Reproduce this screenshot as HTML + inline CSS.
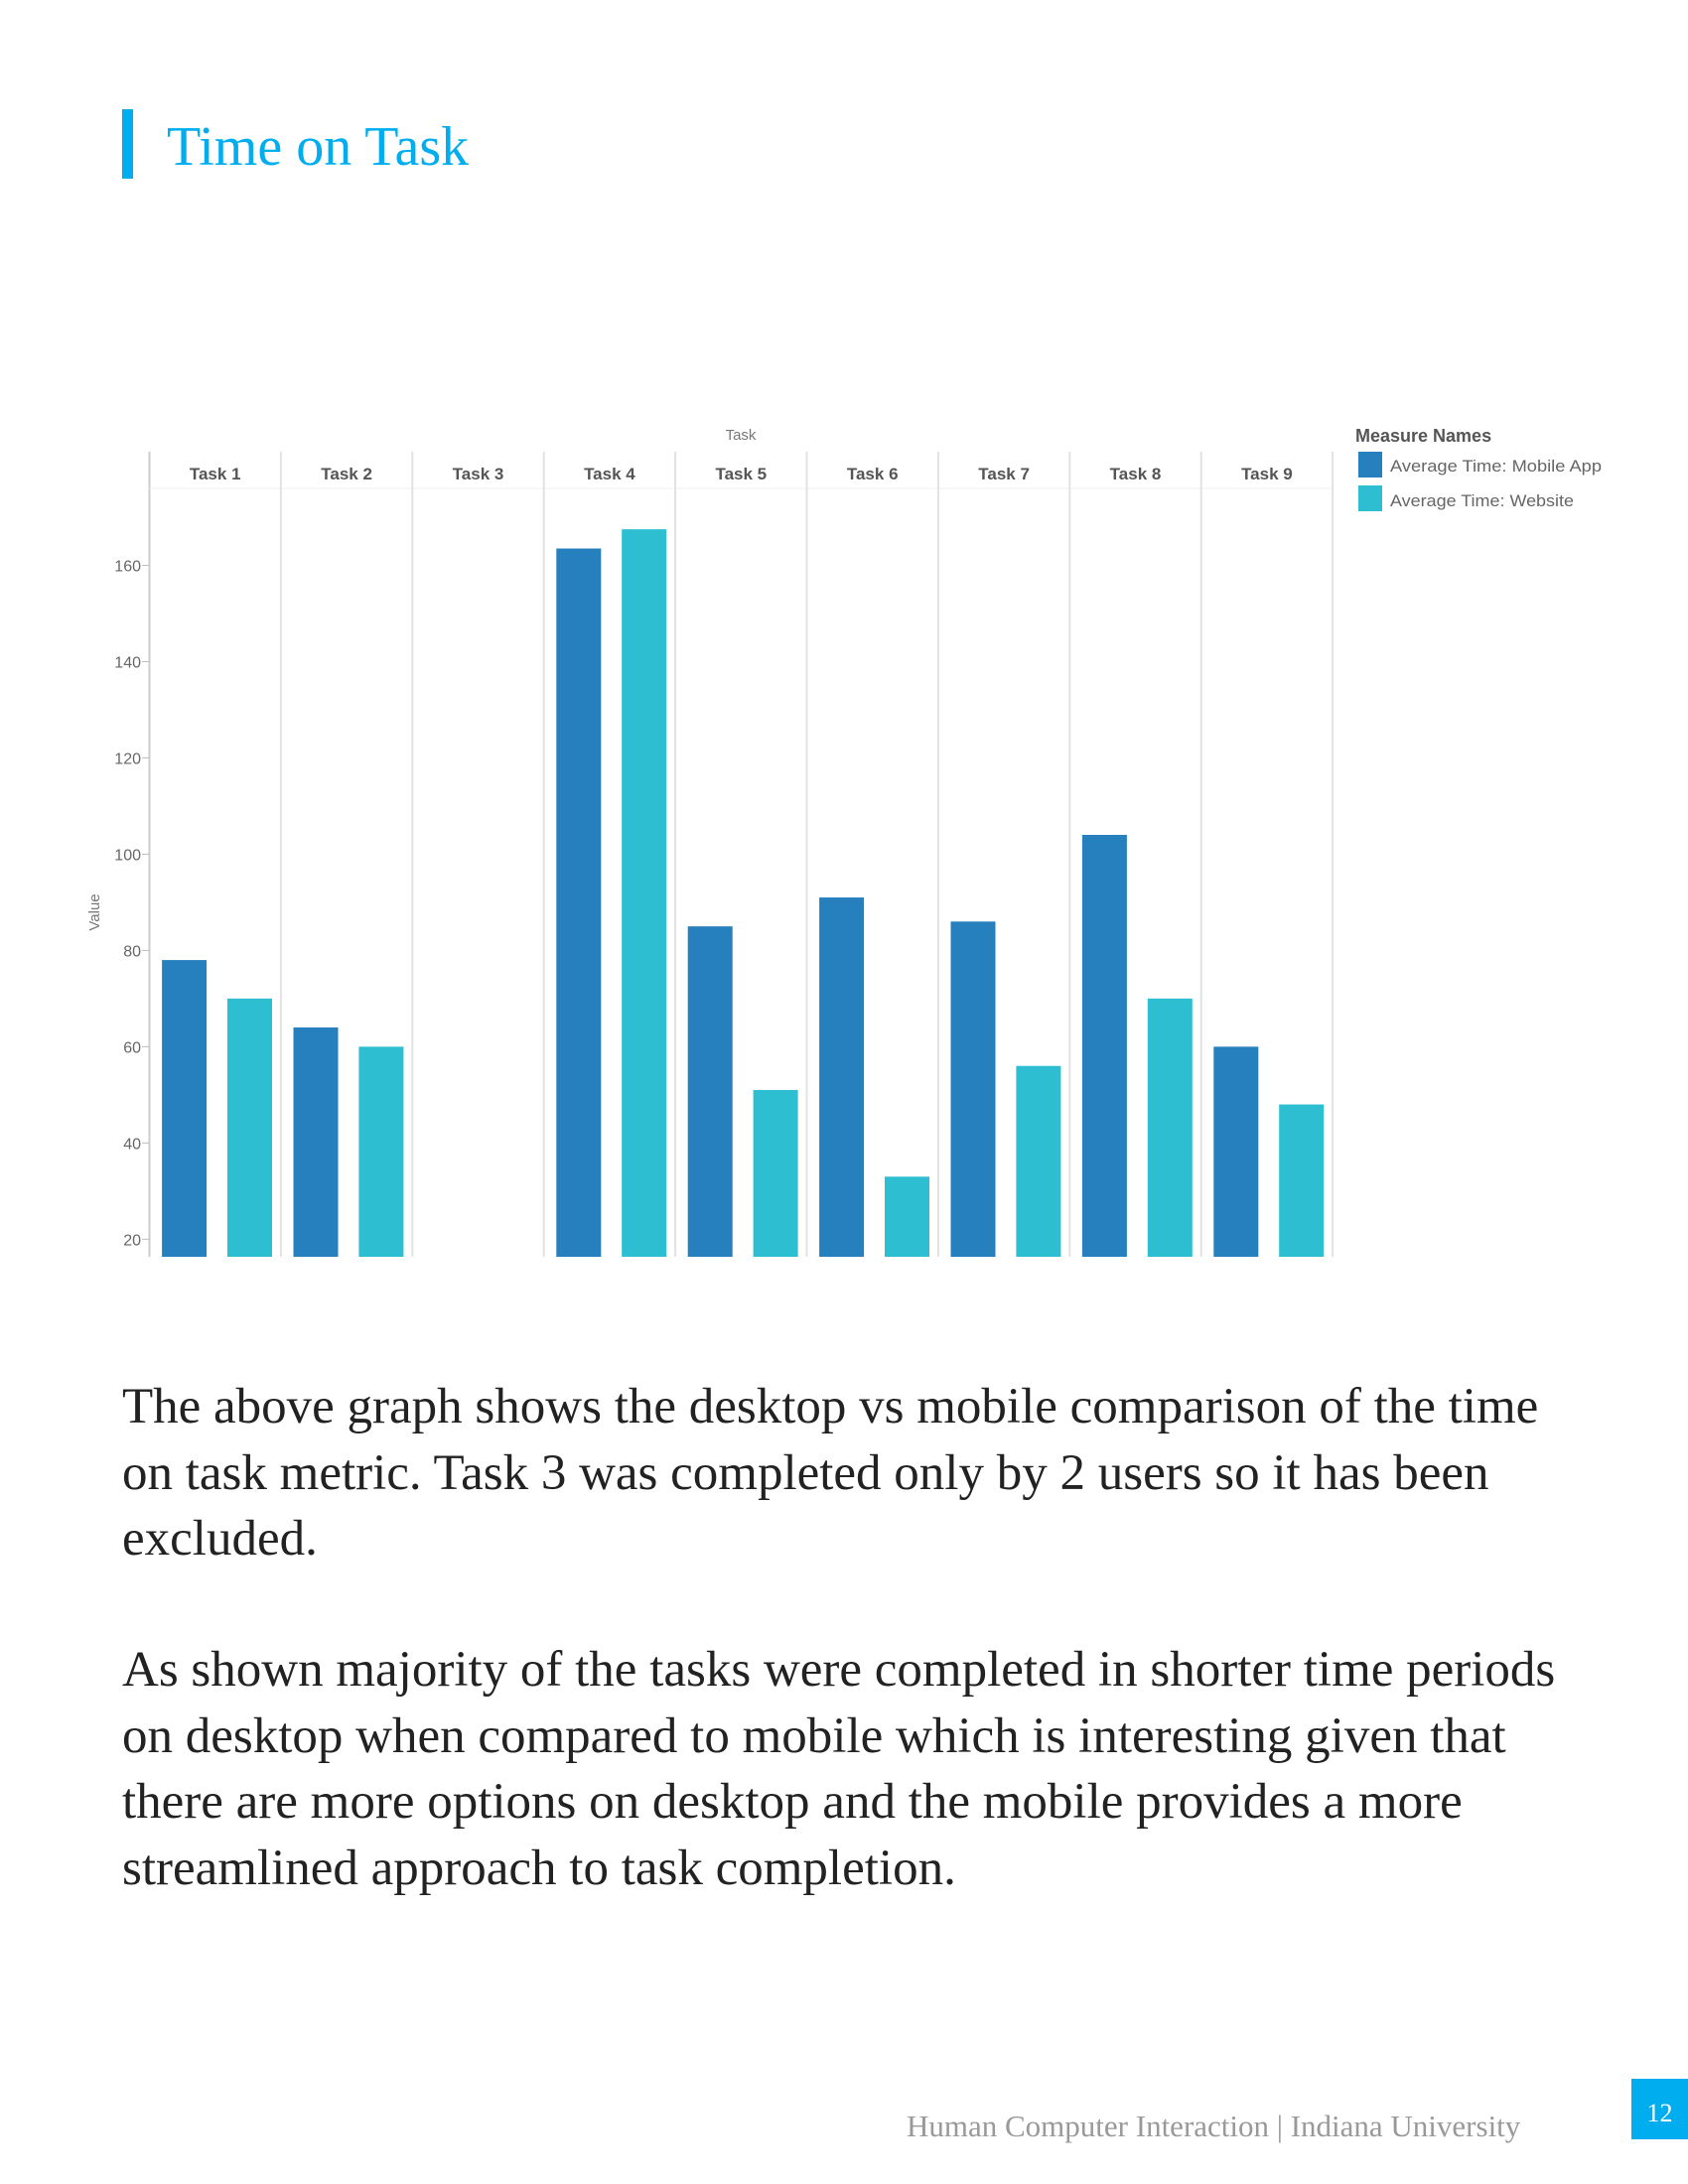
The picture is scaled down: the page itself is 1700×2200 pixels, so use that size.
<!DOCTYPE html>
<html><head><meta charset="utf-8"><style>
html,body{margin:0;padding:0;background:#fff;}
body{width:1700px;height:2200px;position:relative;overflow:hidden;font-family:"Liberation Serif",serif;}
.bar{position:absolute;left:123px;top:110px;width:11px;height:70px;background:#00aeef;}
.title{position:absolute;left:168px;top:120px;font-size:56px;color:#00aeef;line-height:1;}
.para{position:absolute;left:123px;font-size:51px;color:#222;line-height:66.6px;white-space:nowrap;}
.footer{position:absolute;left:913px;top:2124px;font-size:31px;color:#999;white-space:nowrap;}
.pn{position:absolute;left:1643px;top:2094px;width:57px;height:61px;background:#00aeef;color:#fff;font-size:26px;text-align:center;line-height:70px;}
svg{position:absolute;left:0;top:0;}
</style></head><body>
<div class="bar"></div>
<div class="title">Time on Task</div>
<svg id="chart" width="1700" height="1300"></svg>
<div class="para" style="top:1384px">The above graph shows the desktop vs mobile comparison of the time<br>on task metric. Task 3 was completed only by 2 users so it has been<br>excluded.</div>
<div class="para" style="top:1649px">As shown majority of the tasks were completed in shorter time periods<br>on desktop when compared to mobile which is interesting given that<br>there are more options on desktop and the mobile provides a more<br>streamlined approach to task completion.</div>
<div class="footer">Human Computer Interaction | Indiana University</div>
<div class="pn">12</div>
<script>
const categories=["Task 1","Task 2","Task 3","Task 4","Task 5","Task 6","Task 7","Task 8","Task 9"];
const mobileValues=[78,64,null,163.5,85,91,86,104,60];
const websiteValues=[70,60,null,167.5,51,33,56,70,48];
const yTicks=[20,40,60,80,100,120,140,160];
const seriesNames=["Average Time: Mobile App","Average Time: Website"];

const NS="http://www.w3.org/2000/svg";
const svg=document.getElementById('chart');
function mk(tag,attrs,text){const e=document.createElementNS(NS,tag);for(const k in attrs)e.setAttribute(k,attrs[k]);if(text!=null)e.textContent=text;svg.appendChild(e);return e;}
const x0=150.5,panelW=132.4,yBase=1266;
function y(v){return 1248.3-(v-20)*(1248.3-569.5)/140;}
function px(i){return x0+i*panelW;}
const font='"Liberation Sans",sans-serif';

let e=mk('text',{x:746,y:443,'font-size':15,fill:'#777','font-family':font,'text-anchor':'middle'},'Task');


mk('line',{x1:x0,y1:455,x2:x0,y2:yBase,stroke:'#ccc','stroke-width':2});
mk('line',{x1:x0,y1:492,x2:px(9),y2:492,stroke:'#f0f0f0','stroke-width':1});
for(let i=0;i<categories.length;i++){
  const l=mk('line',{x1:px(i+1),y1:455,x2:px(i+1),y2:yBase,stroke:'#e2e2e2','stroke-width':2});
  
  
  const t=mk('text',{x:px(i)+panelW/2,y:483,'font-size':17,'font-weight':'bold',fill:'#555','font-family':font,'text-anchor':'middle'},categories[i]);
  
  
  const vals=[mobileValues[i],websiteValues[i]];
  const cols=['#2580bd','#2dbfd1'];
  const offs=[12.6,78.5];
  for(let s=0;s<2;s++){
    if(vals[s]==null)continue;
    const r=mk('rect',{x:px(i)+offs[s],y:y(vals[s]),width:45,height:yBase-y(vals[s]),fill:cols[s]});
    
    
  }
}
for(const v of yTicks){
  const t=mk('text',{x:142,y:y(v)+6,'font-size':16,fill:'#666','font-family':font,'text-anchor':'end'},String(v));
  
  
  mk('line',{x1:143,y1:y(v),x2:150,y2:y(v),stroke:'#bbb','stroke-width':1});
}
e=mk('text',{x:0,y:0,'font-size':15,fill:'#777','font-family':font,'text-anchor':'middle',transform:'translate(100,919) rotate(-90)'},'Value');


e=mk('text',{x:1365,y:445,'font-size':18,'font-weight':'bold',fill:'#555','font-family':font},'Measure Names');


const legCols=['#2580bd','#2dbfd1'];
for(let s=0;s<2;s++){
  const r=mk('rect',{x:1368,y:455+s*34,width:24,height:26,fill:legCols[s]});
  
  
  const t=mk('text',{x:1400,y:475+s*35,'font-size':17,fill:'#666','font-family':font,textLength:213,lengthAdjust:'spacingAndGlyphs'},seriesNames[s]);
  if(s===1)t.setAttribute('textLength',185);
  
  
}
</script>
</body></html>
